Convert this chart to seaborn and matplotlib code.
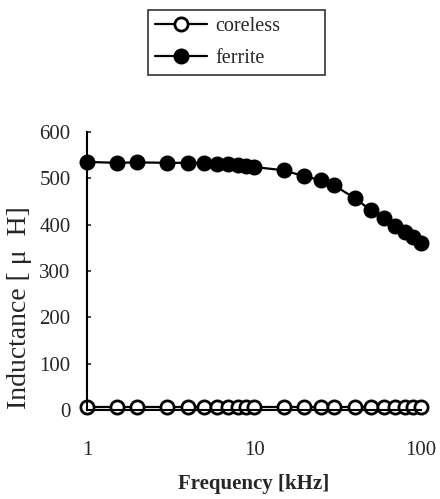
import numpy as np
import pandas as pd
import matplotlib
matplotlib.use("Agg")
import matplotlib.pyplot as plt
import seaborn as sns

freq_khz = [1, 1.5, 2, 3, 4, 5, 6, 7, 8, 9, 10, 15, 20, 25, 30, 40, 50, 60, 70, 80, 90, 100]
coreless_uh = [7, 7, 7, 7, 7, 7, 7, 7, 7, 7, 7, 7, 7, 7, 7, 7, 7, 7, 7, 7, 7, 7]
ferrite_uh = [535, 533, 534, 533, 533, 532, 531, 530, 528, 526, 524, 517, 504, 496, 485,
              457, 431, 414, 397, 384, 373, 360]
y_ticks = [0, 100, 200, 300, 400, 500, 600]
x_ticks = [1, 10, 100]
x_tick_labels = ["1", "10", "100"]

sns.set_theme(style="ticks")
plt.rcParams['font.family'] = ['Liberation Serif', 'DejaVu Serif']

df = pd.DataFrame({"freq": freq_khz, "coreless": coreless_uh, "ferrite": ferrite_uh})

fig = plt.figure(figsize=(4.4, 4.99), dpi=100)
ax = fig.add_axes([0.198, 0.178, 0.759, 0.558])

sns.lineplot(data=df, x="freq", y="coreless", ax=ax, color="black", lw=1.6,
             marker="o", markersize=9.5, markerfacecolor="white",
             markeredgecolor="black", markeredgewidth=2, label="coreless", clip_on=False)
sns.lineplot(data=df, x="freq", y="ferrite", ax=ax, color="black", lw=1.6,
             marker="o", markersize=10.5, markerfacecolor="black",
             markeredgecolor="black", markeredgewidth=1, label="ferrite", clip_on=False)

ax.set_xscale("log")
ax.set_xlim(1, 100)
ax.set_ylim(0, 600)
ax.set_xticks(x_ticks)
ax.set_xticklabels(x_tick_labels)
ax.set_yticks(y_ticks)
ax.minorticks_off()
ax.tick_params(axis="x", length=0, pad=22, labelsize=15)
ax.tick_params(axis="y", direction="in", length=3, width=1.2, pad=12, labelsize=15)

for s in ["top", "right"]:
    ax.spines[s].set_visible(False)
for s in ["left", "bottom"]:
    ax.spines[s].set_color("black")
    ax.spines[s].set_linewidth(1.5)

ax.set_xlabel("Frequency [kHz]", fontsize=15, fontweight="bold", labelpad=10)
ax.set_ylabel("Inductance [ μ  H]", fontsize=20)
ax.yaxis.set_label_coords(-0.165, 0.37)

ax.get_legend().remove()
leg = fig.legend(loc="upper left", bbox_to_anchor=(0.336, 0.85, 0.402, 0.13),
                 mode="expand", borderaxespad=0, frameon=True, fancybox=False,
                 edgecolor="black", fontsize=14.5, handlelength=2.6, borderpad=0.35,
                 labelspacing=0.65, handletextpad=0.4)
leg.get_frame().set_linewidth(1.2)

fig.savefig("out.png", dpi=100)
